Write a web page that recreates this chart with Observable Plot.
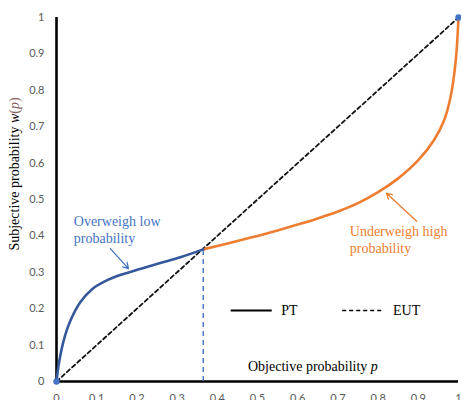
<!DOCTYPE html>
<html>
<head>
<meta charset="utf-8">
<script src="https://cdn.jsdelivr.net/npm/d3@7"></script>
<script src="https://cdn.jsdelivr.net/npm/@observablehq/plot@0.6"></script>
<style>
  html, body { margin: 0; padding: 0; background: #fff; overflow: hidden; }
</style>
</head>
<body>
<div id="chart"></div>
<script>
// ---- data ----
const tickValues = [0, 0.1, 0.2, 0.3, 0.4, 0.5, 0.6, 0.7, 0.8, 0.9, 1];
const tickLabels = ["0", "0.1", "0.2", "0.3", "0.4", "0.5", "0.6", "0.7", "0.8", "0.9", "1"];
// PT weighting function, overweighting part (blue)
const blueP = [0, 0.006, 0.018, 0.035, 0.06, 0.09, 0.12, 0.16, 0.21, 0.26, 0.31, 0.365];
const blueW = [0, 0.05, 0.113, 0.168, 0.219, 0.255, 0.275, 0.293, 0.31, 0.326, 0.342, 0.363];
// PT weighting function, underweighting part (orange)
const orangeP = [0.365, 0.45, 0.5, 0.55, 0.6, 0.65, 0.7, 0.75, 0.8, 0.85, 0.9, 0.94, 0.965, 0.98, 0.993, 1];
const orangeW = [0.363, 0.386, 0.4, 0.415, 0.431, 0.448, 0.467, 0.49, 0.52, 0.558, 0.608, 0.665, 0.72, 0.78, 0.88, 1];
// EUT diagonal
const eutP = [0, 1];
const eutW = [0, 1];
const legendLabels = ["PT", "EUT"];
const annotationTexts = ["Overweigh low\nprobability", "Underweigh high\nprobability"];

// ---- build ----
const blue = blueP.map((p, i) => ({p, w: blueW[i]}));
const orange = orangeP.map((p, i) => ({p, w: orangeW[i]}));
const eut = eutP.map((p, i) => ({p, w: eutW[i]}));
const cross = blue[blue.length - 1];

const BLUE_LINE = "#35589c";
const BLUE = "#4472C4";
const ORANGE = "#ED7D31";
const SERIF = "'Liberation Serif', 'Times New Roman', serif";

const plot = Plot.plot({
  width: 461,
  height: 400,
  marginLeft: 56,
  marginRight: 3,
  marginTop: 17,
  marginBottom: 19,
  style: {fontFamily: "Lato, 'Liberation Sans', sans-serif", fontSize: "11px", background: "white", overflow: "visible"},
  x: {domain: [0, 1]},
  y: {domain: [0, 1]},
  marks: [
    Plot.axisX({ticks: tickValues, tickFormat: (d, i) => tickLabels[i], tickSize: 0, tickPadding: 13, label: null, fill: "#595959"}),
    Plot.axisY({ticks: tickValues, tickFormat: (d, i) => tickLabels[i], tickSize: 0, tickPadding: 12, label: null, fill: "#595959"}),
    // axis lines
    Plot.ruleX([0], {y1: 0, y2: 1, stroke: "black", strokeWidth: 2.6}),
    Plot.ruleY([0], {x1: 0, x2: 1, stroke: "black", strokeWidth: 2.6}),
    // EUT diagonal
    Plot.line(eut, {x: "p", y: "w", stroke: "#111", strokeWidth: 1.8, strokeDasharray: "4,3"}),
    // vertical dashed line at crossing
    Plot.ruleX([cross], {x: "p", y1: 0, y2: "w", stroke: BLUE, strokeWidth: 1.4, strokeDasharray: "5,4"}),
    // PT curve
    Plot.line(orange, {x: "p", y: "w", stroke: ORANGE, strokeWidth: 2.6, curve: "catmull-rom"}),
    Plot.line(blue, {x: "p", y: "w", stroke: BLUE_LINE, strokeWidth: 2.6, curve: "catmull-rom"}),
    Plot.dot([eut[0], eut[1]], {x: "p", y: "w", r: 3.2, fill: BLUE, stroke: "none"}),
    // annotations
    Plot.text([annotationTexts[0]], {x: 0.043, y: 0.418, text: d => d, textAnchor: "start", lineAnchor: "middle", fill: BLUE, fontFamily: SERIF, fontSize: 14, lineHeight: 1.2}),
    Plot.arrow([{x1: 0.134, y1: 0.365, x2: 0.179, y2: 0.31}], {x1: "x1", y1: "y1", x2: "x2", y2: "y2", stroke: BLUE, strokeWidth: 1.3, headLength: 7}),
    Plot.text([annotationTexts[1]], {x: 0.7296, y: 0.392, text: d => d, textAnchor: "start", lineAnchor: "middle", fill: ORANGE, fontFamily: SERIF, fontSize: 14, lineHeight: 1.2}),
    Plot.arrow([{x1: 0.896, y1: 0.44, x2: 0.821, y2: 0.517}], {x1: "x1", y1: "y1", x2: "x2", y2: "y2", stroke: ORANGE, strokeWidth: 1.3, headLength: 7}),
    // legend
    Plot.ruleY([0.195], {x1: 0.4346, x2: 0.5366, stroke: "black", strokeWidth: 1.8}),
    Plot.text([legendLabels[0]], {x: 0.559, y: 0.195, text: d => d, textAnchor: "start", fill: "black", fontFamily: SERIF, fontSize: 14}),
    Plot.ruleY([0.195], {x1: 0.712, x2: 0.814, stroke: "black", strokeWidth: 1.6, strokeDasharray: "4,3"}),
    Plot.text([legendLabels[1]], {x: 0.837, y: 0.195, text: d => d, textAnchor: "start", fill: "black", fontFamily: SERIF, fontSize: 14})
  ]
});

document.getElementById("chart").appendChild(plot);

// axis titles with italic parts
const svg = d3.select(plot);
const xt = svg.append("text")
  .attr("x", 248).attr("y", 371)
  .attr("text-anchor", "start")
  .attr("font-family", SERIF).attr("font-size", 14).attr("fill", "black");
xt.append("tspan").text("Objective probability ");
xt.append("tspan").attr("font-style", "italic").text("p");

const yt = svg.append("text")
  .attr("transform", "translate(19,174) rotate(-90)")
  .attr("text-anchor", "middle")
  .attr("font-family", SERIF).attr("font-size", 14).attr("fill", "black");
yt.append("tspan").text("Subjective probability ");
yt.append("tspan").attr("font-style", "italic").text("w");
yt.append("tspan").attr("fill", "#8a6060").text("(");
yt.append("tspan").attr("fill", "#8a6060").attr("font-style", "italic").text("p");
yt.append("tspan").attr("fill", "#8a6060").text(")");
</script>
</body>
</html>
